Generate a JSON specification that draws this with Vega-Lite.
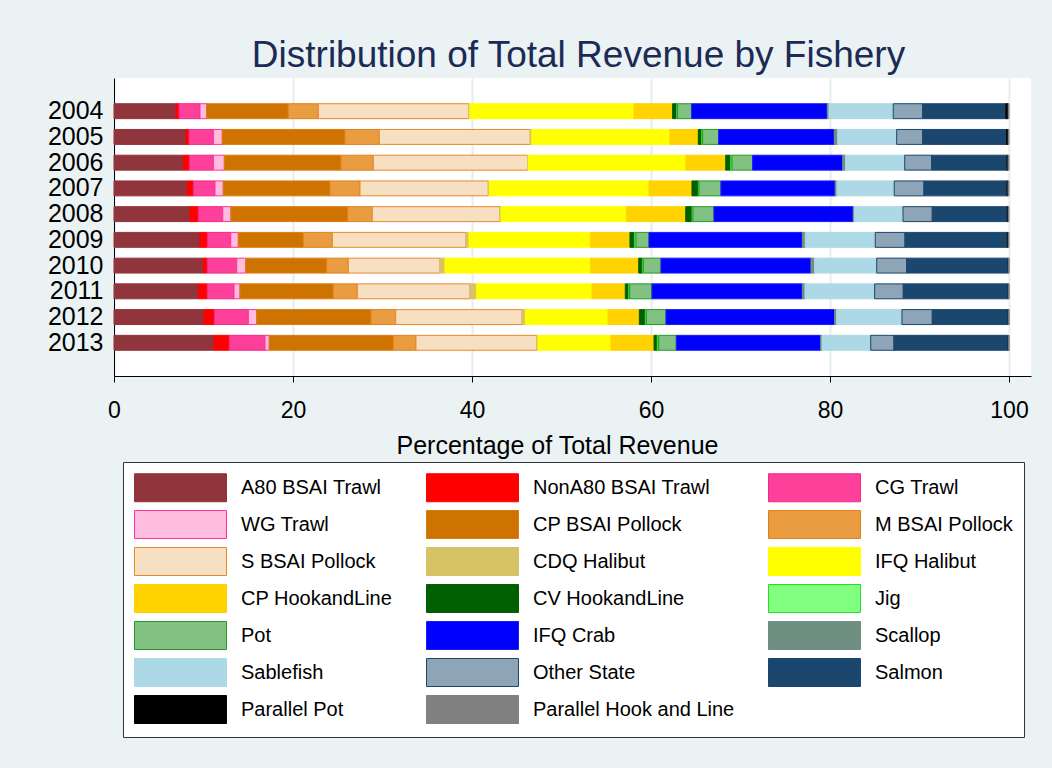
{
  "$schema": "https://vega.github.io/schema/vega-lite/v6.json",
  "width": 917,
  "height": 298,
  "autosize": {"type": "none"},
  "padding": {"left": 114, "top": 78, "right": 21, "bottom": 392},
  "background": "#eaf2f3",
  "view": {"fill": "white", "stroke": null},
  "title": {
    "text": "Distribution of Total Revenue by Fishery",
    "font": "Liberation Sans",
    "fontSize": 37,
    "fontWeight": "normal",
    "color": "#1c2b55",
    "anchor": "middle",
    "frame": "group",
    "baseline": "alphabetic",
    "dx": 6,
    "dy": 37,
    "offset": 11
  },
  "datasets": {
    "rev": [
      {"year":"2004","fishery":"A80 BSAI Trawl","k":1,"pct":6.93},
      {"year":"2004","fishery":"NonA80 BSAI Trawl","k":2,"pct":0.33},
      {"year":"2004","fishery":"CG Trawl","k":3,"pct":2.35},
      {"year":"2004","fishery":"WG Trawl","k":4,"pct":0.75},
      {"year":"2004","fishery":"CP BSAI Pollock","k":5,"pct":9.11},
      {"year":"2004","fishery":"M BSAI Pollock","k":6,"pct":3.36},
      {"year":"2004","fishery":"S BSAI Pollock","k":7,"pct":16.83},
      {"year":"2004","fishery":"CDQ Halibut","k":8,"pct":0.10},
      {"year":"2004","fishery":"IFQ Halibut","k":9,"pct":18.34},
      {"year":"2004","fishery":"CP HookandLine","k":10,"pct":4.32},
      {"year":"2004","fishery":"CV HookandLine","k":11,"pct":0.45},
      {"year":"2004","fishery":"Jig","k":12,"pct":0.10},
      {"year":"2004","fishery":"Pot","k":13,"pct":1.58},
      {"year":"2004","fishery":"IFQ Crab","k":14,"pct":15.15},
      {"year":"2004","fishery":"Scallop","k":15,"pct":0.19},
      {"year":"2004","fishery":"Sablefish","k":16,"pct":7.18},
      {"year":"2004","fishery":"Other State","k":17,"pct":3.29},
      {"year":"2004","fishery":"Salmon","k":18,"pct":9.30},
      {"year":"2004","fishery":"Parallel Pot","k":19,"pct":0.26},
      {"year":"2004","fishery":"Parallel Hook and Line","k":20,"pct":0.08},

      {"year":"2005","fishery":"A80 BSAI Trawl","k":1,"pct":8.04},
      {"year":"2005","fishery":"NonA80 BSAI Trawl","k":2,"pct":0.34},
      {"year":"2005","fishery":"CG Trawl","k":3,"pct":2.72},
      {"year":"2005","fishery":"WG Trawl","k":4,"pct":1.00},
      {"year":"2005","fishery":"CP BSAI Pollock","k":5,"pct":13.71},
      {"year":"2005","fishery":"M BSAI Pollock","k":6,"pct":3.83},
      {"year":"2005","fishery":"S BSAI Pollock","k":7,"pct":16.87},
      {"year":"2005","fishery":"CDQ Halibut","k":8,"pct":0.16},
      {"year":"2005","fishery":"IFQ Halibut","k":9,"pct":15.45},
      {"year":"2005","fishery":"CP HookandLine","k":10,"pct":3.17},
      {"year":"2005","fishery":"CV HookandLine","k":11,"pct":0.37},
      {"year":"2005","fishery":"Jig","k":12,"pct":0.11},
      {"year":"2005","fishery":"Pot","k":13,"pct":1.79},
      {"year":"2005","fishery":"IFQ Crab","k":14,"pct":12.92},
      {"year":"2005","fishery":"Scallop","k":15,"pct":0.38},
      {"year":"2005","fishery":"Sablefish","k":16,"pct":6.59},
      {"year":"2005","fishery":"Other State","k":17,"pct":2.91},
      {"year":"2005","fishery":"Salmon","k":18,"pct":9.38},
      {"year":"2005","fishery":"Parallel Pot","k":19,"pct":0.18},
      {"year":"2005","fishery":"Parallel Hook and Line","k":20,"pct":0.08},

      {"year":"2006","fishery":"A80 BSAI Trawl","k":1,"pct":7.75},
      {"year":"2006","fishery":"NonA80 BSAI Trawl","k":2,"pct":0.67},
      {"year":"2006","fishery":"CG Trawl","k":3,"pct":2.68},
      {"year":"2006","fishery":"WG Trawl","k":4,"pct":1.23},
      {"year":"2006","fishery":"CP BSAI Pollock","k":5,"pct":13.03},
      {"year":"2006","fishery":"M BSAI Pollock","k":6,"pct":3.61},
      {"year":"2006","fishery":"S BSAI Pollock","k":7,"pct":17.25},
      {"year":"2006","fishery":"CDQ Halibut","k":8,"pct":0.07},
      {"year":"2006","fishery":"IFQ Halibut","k":9,"pct":17.62},
      {"year":"2006","fishery":"CP HookandLine","k":10,"pct":4.44},
      {"year":"2006","fishery":"CV HookandLine","k":11,"pct":0.55},
      {"year":"2006","fishery":"Jig","k":12,"pct":0.15},
      {"year":"2006","fishery":"Pot","k":13,"pct":2.31},
      {"year":"2006","fishery":"IFQ Crab","k":14,"pct":10.06},
      {"year":"2006","fishery":"Scallop","k":15,"pct":0.33},
      {"year":"2006","fishery":"Sablefish","k":16,"pct":6.60},
      {"year":"2006","fishery":"Other State","k":17,"pct":3.01},
      {"year":"2006","fishery":"Salmon","k":18,"pct":8.42},
      {"year":"2006","fishery":"Parallel Pot","k":19,"pct":0.12},
      {"year":"2006","fishery":"Parallel Hook and Line","k":20,"pct":0.10},

      {"year":"2007","fishery":"A80 BSAI Trawl","k":1,"pct":8.19},
      {"year":"2007","fishery":"NonA80 BSAI Trawl","k":2,"pct":0.67},
      {"year":"2007","fishery":"CG Trawl","k":3,"pct":2.42},
      {"year":"2007","fishery":"WG Trawl","k":4,"pct":0.93},
      {"year":"2007","fishery":"CP BSAI Pollock","k":5,"pct":11.92},
      {"year":"2007","fishery":"M BSAI Pollock","k":6,"pct":3.36},
      {"year":"2007","fishery":"S BSAI Pollock","k":7,"pct":14.33},
      {"year":"2007","fishery":"CDQ Halibut","k":8,"pct":0.11},
      {"year":"2007","fishery":"IFQ Halibut","k":9,"pct":17.85},
      {"year":"2007","fishery":"CP HookandLine","k":10,"pct":4.80},
      {"year":"2007","fishery":"CV HookandLine","k":11,"pct":0.71},
      {"year":"2007","fishery":"Jig","k":12,"pct":0.07},
      {"year":"2007","fishery":"Pot","k":13,"pct":2.46},
      {"year":"2007","fishery":"IFQ Crab","k":14,"pct":12.77},
      {"year":"2007","fishery":"Scallop","k":15,"pct":0.19},
      {"year":"2007","fishery":"Sablefish","k":16,"pct":6.40},
      {"year":"2007","fishery":"Other State","k":17,"pct":3.32},
      {"year":"2007","fishery":"Salmon","k":18,"pct":9.28},
      {"year":"2007","fishery":"Parallel Pot","k":19,"pct":0.12},
      {"year":"2007","fishery":"Parallel Hook and Line","k":20,"pct":0.10},

      {"year":"2008","fishery":"A80 BSAI Trawl","k":1,"pct":8.49},
      {"year":"2008","fishery":"NonA80 BSAI Trawl","k":2,"pct":0.93},
      {"year":"2008","fishery":"CG Trawl","k":3,"pct":2.73},
      {"year":"2008","fishery":"WG Trawl","k":4,"pct":0.92},
      {"year":"2008","fishery":"CP BSAI Pollock","k":5,"pct":13.04},
      {"year":"2008","fishery":"M BSAI Pollock","k":6,"pct":2.75},
      {"year":"2008","fishery":"S BSAI Pollock","k":7,"pct":14.27},
      {"year":"2008","fishery":"CDQ Halibut","k":8,"pct":0.11},
      {"year":"2008","fishery":"IFQ Halibut","k":9,"pct":14.04},
      {"year":"2008","fishery":"CP HookandLine","k":10,"pct":6.60},
      {"year":"2008","fishery":"CV HookandLine","k":11,"pct":0.70},
      {"year":"2008","fishery":"Jig","k":12,"pct":0.11},
      {"year":"2008","fishery":"Pot","k":13,"pct":2.35},
      {"year":"2008","fishery":"IFQ Crab","k":14,"pct":15.56},
      {"year":"2008","fishery":"Scallop","k":15,"pct":0.12},
      {"year":"2008","fishery":"Sablefish","k":16,"pct":5.44},
      {"year":"2008","fishery":"Other State","k":17,"pct":3.27},
      {"year":"2008","fishery":"Salmon","k":18,"pct":8.38},
      {"year":"2008","fishery":"Parallel Pot","k":19,"pct":0.11},
      {"year":"2008","fishery":"Parallel Hook and Line","k":20,"pct":0.08},

      {"year":"2009","fishery":"A80 BSAI Trawl","k":1,"pct":9.61},
      {"year":"2009","fishery":"NonA80 BSAI Trawl","k":2,"pct":0.82},
      {"year":"2009","fishery":"CG Trawl","k":3,"pct":2.61},
      {"year":"2009","fishery":"WG Trawl","k":4,"pct":0.85},
      {"year":"2009","fishery":"CP BSAI Pollock","k":5,"pct":7.26},
      {"year":"2009","fishery":"M BSAI Pollock","k":6,"pct":3.24},
      {"year":"2009","fishery":"S BSAI Pollock","k":7,"pct":14.94},
      {"year":"2009","fishery":"CDQ Halibut","k":8,"pct":0.33},
      {"year":"2009","fishery":"IFQ Halibut","k":9,"pct":13.60},
      {"year":"2009","fishery":"CP HookandLine","k":10,"pct":4.39},
      {"year":"2009","fishery":"CV HookandLine","k":11,"pct":0.49},
      {"year":"2009","fishery":"Jig","k":12,"pct":0.18},
      {"year":"2009","fishery":"Pot","k":13,"pct":1.46},
      {"year":"2009","fishery":"IFQ Crab","k":14,"pct":17.13},
      {"year":"2009","fishery":"Scallop","k":15,"pct":0.33},
      {"year":"2009","fishery":"Sablefish","k":16,"pct":7.82},
      {"year":"2009","fishery":"Other State","k":17,"pct":3.32},
      {"year":"2009","fishery":"Salmon","k":18,"pct":11.43},
      {"year":"2009","fishery":"Parallel Pot","k":19,"pct":0.11},
      {"year":"2009","fishery":"Parallel Hook and Line","k":20,"pct":0.08},

      {"year":"2010","fishery":"A80 BSAI Trawl","k":1,"pct":9.98},
      {"year":"2010","fishery":"NonA80 BSAI Trawl","k":2,"pct":0.44},
      {"year":"2010","fishery":"CG Trawl","k":3,"pct":3.29},
      {"year":"2010","fishery":"WG Trawl","k":4,"pct":1.01},
      {"year":"2010","fishery":"CP BSAI Pollock","k":5,"pct":9.05},
      {"year":"2010","fishery":"M BSAI Pollock","k":6,"pct":2.41},
      {"year":"2010","fishery":"S BSAI Pollock","k":7,"pct":10.24},
      {"year":"2010","fishery":"CDQ Halibut","k":8,"pct":0.56},
      {"year":"2010","fishery":"IFQ Halibut","k":9,"pct":16.28},
      {"year":"2010","fishery":"CP HookandLine","k":10,"pct":5.37},
      {"year":"2010","fishery":"CV HookandLine","k":11,"pct":0.40},
      {"year":"2010","fishery":"Jig","k":12,"pct":0.11},
      {"year":"2010","fishery":"Pot","k":13,"pct":1.98},
      {"year":"2010","fishery":"IFQ Crab","k":14,"pct":16.76},
      {"year":"2010","fishery":"Scallop","k":15,"pct":0.41},
      {"year":"2010","fishery":"Sablefish","k":16,"pct":6.93},
      {"year":"2010","fishery":"Other State","k":17,"pct":3.35},
      {"year":"2010","fishery":"Salmon","k":18,"pct":11.35},
      {"year":"2010","fishery":"Parallel Pot","k":19,"pct":0.05},
      {"year":"2010","fishery":"Parallel Hook and Line","k":20,"pct":0.03},

      {"year":"2011","fishery":"A80 BSAI Trawl","k":1,"pct":9.46},
      {"year":"2011","fishery":"NonA80 BSAI Trawl","k":2,"pct":0.96},
      {"year":"2011","fishery":"CG Trawl","k":3,"pct":2.99},
      {"year":"2011","fishery":"WG Trawl","k":4,"pct":0.67},
      {"year":"2011","fishery":"CP BSAI Pollock","k":5,"pct":10.42},
      {"year":"2011","fishery":"M BSAI Pollock","k":6,"pct":2.68},
      {"year":"2011","fishery":"S BSAI Pollock","k":7,"pct":12.60},
      {"year":"2011","fishery":"CDQ Halibut","k":8,"pct":0.74},
      {"year":"2011","fishery":"IFQ Halibut","k":9,"pct":12.89},
      {"year":"2011","fishery":"CP HookandLine","k":10,"pct":3.72},
      {"year":"2011","fishery":"CV HookandLine","k":11,"pct":0.38},
      {"year":"2011","fishery":"Jig","k":12,"pct":0.11},
      {"year":"2011","fishery":"Pot","k":13,"pct":2.49},
      {"year":"2011","fishery":"IFQ Crab","k":14,"pct":16.80},
      {"year":"2011","fishery":"Scallop","k":15,"pct":0.30},
      {"year":"2011","fishery":"Sablefish","k":16,"pct":7.78},
      {"year":"2011","fishery":"Other State","k":17,"pct":3.20},
      {"year":"2011","fishery":"Salmon","k":18,"pct":11.73},
      {"year":"2011","fishery":"Parallel Pot","k":19,"pct":0.05},
      {"year":"2011","fishery":"Parallel Hook and Line","k":20,"pct":0.03},

      {"year":"2012","fishery":"A80 BSAI Trawl","k":1,"pct":10.06},
      {"year":"2012","fishery":"NonA80 BSAI Trawl","k":2,"pct":1.15},
      {"year":"2012","fishery":"CG Trawl","k":3,"pct":3.80},
      {"year":"2012","fishery":"WG Trawl","k":4,"pct":0.93},
      {"year":"2012","fishery":"CP BSAI Pollock","k":5,"pct":12.78},
      {"year":"2012","fishery":"M BSAI Pollock","k":6,"pct":2.75},
      {"year":"2012","fishery":"S BSAI Pollock","k":7,"pct":14.12},
      {"year":"2012","fishery":"CDQ Halibut","k":8,"pct":0.37},
      {"year":"2012","fishery":"IFQ Halibut","k":9,"pct":9.24},
      {"year":"2012","fishery":"CP HookandLine","k":10,"pct":3.50},
      {"year":"2012","fishery":"CV HookandLine","k":11,"pct":0.66},
      {"year":"2012","fishery":"Jig","k":12,"pct":0.12},
      {"year":"2012","fishery":"Pot","k":13,"pct":2.20},
      {"year":"2012","fishery":"IFQ Crab","k":14,"pct":18.84},
      {"year":"2012","fishery":"Scallop","k":15,"pct":0.23},
      {"year":"2012","fishery":"Sablefish","k":16,"pct":7.29},
      {"year":"2012","fishery":"Other State","k":17,"pct":3.39},
      {"year":"2012","fishery":"Salmon","k":18,"pct":8.49},
      {"year":"2012","fishery":"Parallel Pot","k":19,"pct":0.05},
      {"year":"2012","fishery":"Parallel Hook and Line","k":20,"pct":0.03},

      {"year":"2013","fishery":"A80 BSAI Trawl","k":1,"pct":11.17},
      {"year":"2013","fishery":"NonA80 BSAI Trawl","k":2,"pct":1.71},
      {"year":"2013","fishery":"CG Trawl","k":3,"pct":3.99},
      {"year":"2013","fishery":"WG Trawl","k":4,"pct":0.48},
      {"year":"2013","fishery":"CP BSAI Pollock","k":5,"pct":13.86},
      {"year":"2013","fishery":"M BSAI Pollock","k":6,"pct":2.53},
      {"year":"2013","fishery":"S BSAI Pollock","k":7,"pct":13.49},
      {"year":"2013","fishery":"CDQ Halibut","k":8,"pct":0.14},
      {"year":"2013","fishery":"IFQ Halibut","k":9,"pct":8.16},
      {"year":"2013","fishery":"CP HookandLine","k":10,"pct":4.81},
      {"year":"2013","fishery":"CV HookandLine","k":11,"pct":0.36},
      {"year":"2013","fishery":"Jig","k":12,"pct":0.16},
      {"year":"2013","fishery":"Pot","k":13,"pct":1.97},
      {"year":"2013","fishery":"IFQ Crab","k":14,"pct":16.13},
      {"year":"2013","fishery":"Scallop","k":15,"pct":0.15},
      {"year":"2013","fishery":"Sablefish","k":16,"pct":5.44},
      {"year":"2013","fishery":"Other State","k":17,"pct":2.60},
      {"year":"2013","fishery":"Salmon","k":18,"pct":12.77},
      {"year":"2013","fishery":"Parallel Pot","k":19,"pct":0.05},
      {"year":"2013","fishery":"Parallel Hook and Line","k":20,"pct":0.03}
    ]
  },
  "data": {"name": "rev"},
  "mark": {"type": "bar", "strokeWidth": 1},
  "encoding": {
    "y": {
      "field": "year",
      "type": "ordinal",
      "scale": {"paddingInner": 0.42, "paddingOuter": 1.2},
      "axis": {
        "title": null,
        "ticks": false,
        "grid": false,
        "domain": true,
        "domainColor": "#000000",
        "domainWidth": 1,
        "labelFont": "Liberation Sans",
        "labelFontSize": 25,
        "labelColor": "#000000",
        "labelPadding": 11,
        "labelBaseline": "middle"
      }
    },
    "x": {
      "field": "pct",
      "type": "quantitative",
      "stack": "zero",
      "scale": {"domain": [0, 102.46], "nice": false, "zero": true},
      "axis": {
        "title": "Percentage of Total Revenue",
        "values": [0, 20, 40, 60, 80, 100],
        "grid": true,
        "gridColor": "#e4edf0",
        "gridWidth": 2,
        "domain": true,
        "domainColor": "#000000",
        "domainWidth": 1,
        "ticks": true,
        "tickColor": "#000000",
        "tickSize": 6,
        "tickWidth": 1,
        "labelFont": "Liberation Sans",
        "labelFontSize": 23,
        "labelColor": "#000000",
        "labelBaseline": "alphabetic",
        "labelPadding": 35,
        "labelFlush": false,
        "labelOverlap": false,
        "titleFont": "Liberation Sans",
        "titleFontSize": 25,
        "titleFontWeight": "normal",
        "titleColor": "#000000",
        "titleBaseline": "alphabetic",
        "titleY": 77,
        "titleX": 443
      }
    },
    "order": {"field": "k", "type": "quantitative", "sort": "ascending"},
    "fill": {
      "field": "fishery",
      "type": "nominal",
      "scale": {
        "domain": ["A80 BSAI Trawl", "NonA80 BSAI Trawl", "CG Trawl", "WG Trawl", "CP BSAI Pollock", "M BSAI Pollock", "S BSAI Pollock", "CDQ Halibut", "IFQ Halibut", "CP HookandLine", "CV HookandLine", "Jig", "Pot", "IFQ Crab", "Scallop", "Sablefish", "Other State", "Salmon", "Parallel Pot", "Parallel Hook and Line"],
        "range": ["#90353b", "#ff0000", "#ff409b", "#ffbcdf", "#cf7300", "#ea9c40", "#f7dfc1", "#d8c266", "#ffff00", "#ffd200", "#005f00", "#80ff80", "#81c181", "#0000ff", "#6f8f82", "#add8e6", "#8ea4b7", "#1b476f", "#000000", "#808080"]
      },
      "legend": {
        "orient": "none",
        "direction": "horizontal",
        "legendX": 9,
        "legendY": 384,
        "columns": 3,
        "title": null,
        "symbolType": "M-1,-1H5.571V1H-1Z",
        "symbolSize": 784,
        "symbolStrokeWidth": 1,
        "symbolOpacity": 1,
        "labelFont": "Liberation Sans",
        "labelFontSize": 20,
        "labelColor": "#000000",
        "labelOffset": 78,
        "labelLimit": 400,
        "columnPadding": 31,
        "rowPadding": 4,
        "padding": 11,
        "fillColor": "#ffffff",
        "strokeColor": "#333333"
      }
    },
    "stroke": {
      "field": "fishery",
      "type": "nominal",
      "scale": {
        "domain": ["A80 BSAI Trawl", "NonA80 BSAI Trawl", "CG Trawl", "WG Trawl", "CP BSAI Pollock", "M BSAI Pollock", "S BSAI Pollock", "CDQ Halibut", "IFQ Halibut", "CP HookandLine", "CV HookandLine", "Jig", "Pot", "IFQ Crab", "Scallop", "Sablefish", "Other State", "Salmon", "Parallel Pot", "Parallel Hook and Line"],
        "range": ["#90353b", "#ff0000", "#ee2a8a", "#ff3399", "#dc7c10", "#e0821c", "#e8892a", "#d8c266", "#ffff00", "#ffd200", "#005f00", "#22dd22", "#269a26", "#1a1aff", "#6f8f82", "#add8e6", "#1b476f", "#1b476f", "#000000", "#808080"]
      },
      "legend": {
        "orient": "none",
        "direction": "horizontal",
        "legendX": 9,
        "legendY": 384,
        "columns": 3,
        "title": null,
        "symbolType": "M-1,-1H5.571V1H-1Z",
        "symbolSize": 784,
        "symbolStrokeWidth": 1,
        "symbolOpacity": 1,
        "labelFont": "Liberation Sans",
        "labelFontSize": 20,
        "labelColor": "#000000",
        "labelOffset": 78,
        "labelLimit": 400,
        "columnPadding": 31,
        "rowPadding": 4,
        "padding": 11,
        "fillColor": "#ffffff",
        "strokeColor": "#333333"
      }
    }
  },
  "config": {
    "font": "Liberation Sans",
    "bar": {"opacity": 1}
  }
}
